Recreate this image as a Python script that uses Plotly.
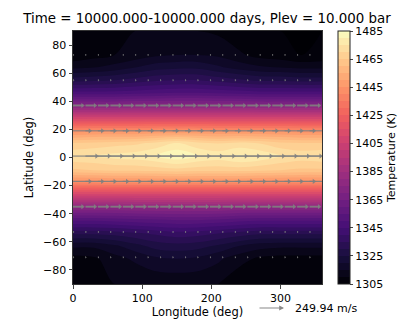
import plotly.graph_objects as go
import plotly.colors as pc

FONT = "DejaVu Sans"

# temperature field (K)
lons = [0, 30, 60, 90, 120, 150, 180, 210, 240, 270, 300, 330, 360]
lats = [-90, -72, -63, -54, -45, -36, -27, -18, -9, 1, 10, 19, 28, 37, 46, 55, 64, 73, 90]
temps = [
    [1305, 1306, 1310, 1310, 1311, 1311, 1311, 1310, 1306, 1305, 1305, 1305, 1305],
    [1308, 1309, 1313, 1316, 1319, 1320, 1319, 1316, 1312, 1309, 1308, 1308, 1308],
    [1316, 1316, 1319, 1323, 1327, 1328, 1327, 1324, 1320, 1317, 1316, 1316, 1316],
    [1331, 1331, 1332, 1334, 1336, 1338, 1337, 1335, 1333, 1331, 1331, 1331, 1331],
    [1350, 1350, 1351, 1352, 1353, 1354, 1354, 1353, 1351, 1350, 1350, 1350, 1350],
    [1374, 1374, 1374, 1375, 1375, 1375, 1375, 1375, 1374, 1374, 1374, 1374, 1374],
    [1406, 1406, 1406, 1406, 1406, 1406, 1406, 1406, 1406, 1406, 1406, 1406, 1406],
    [1440, 1440, 1441, 1441, 1441, 1441, 1441, 1441, 1441, 1440, 1440, 1440, 1440],
    [1464, 1465, 1466, 1466, 1467, 1468, 1467, 1467, 1467, 1466, 1465, 1464, 1464],
    [1474, 1475, 1477, 1478, 1480, 1484, 1480, 1478, 1481, 1479, 1475, 1473, 1474],
    [1466, 1467, 1468, 1469, 1472, 1476, 1472, 1470, 1472, 1470, 1467, 1466, 1466],
    [1442, 1443, 1443, 1443, 1444, 1444, 1444, 1443, 1443, 1443, 1443, 1442, 1442],
    [1408, 1408, 1408, 1408, 1408, 1408, 1408, 1408, 1408, 1408, 1408, 1408, 1408],
    [1373, 1373, 1373, 1374, 1374, 1374, 1374, 1374, 1374, 1373, 1373, 1373, 1373],
    [1347, 1347, 1347, 1348, 1349, 1350, 1350, 1349, 1348, 1347, 1347, 1347, 1347],
    [1328, 1329, 1330, 1332, 1334, 1335, 1335, 1333, 1331, 1329, 1329, 1328, 1328],
    [1314, 1315, 1317, 1320, 1323, 1324, 1324, 1321, 1318, 1316, 1315, 1314, 1314],
    [1306, 1308, 1310, 1312, 1314, 1315, 1315, 1314, 1311, 1308, 1307, 1305, 1306],
    [1305, 1307, 1309, 1310, 1310, 1310, 1310, 1309, 1306, 1305, 1305, 1305, 1305],
]

# wind rows: latitude and eastward speed (m/s)
wind_lats = [-71, -53, -35, -17, 1, 19, 37, 55, 73]
wind_speeds = [5, 6, 85, 150, 210, 150, 85, 6, 5]
wind_lons = list(range(0, 360, 18))
DEG_PER_MS = 40.5 / 249.94

cbar_ticks = list(range(1305, 1486, 20))
magma = pc.get_colorscale("Magma")

fig = go.Figure()
fig.add_trace(go.Contour(
    x=lons, y=lats, z=temps,
    colorscale=magma, zmin=1305, zmax=1485,
    contours=dict(start=1305, end=1485, size=5, coloring="fill", showlines=False),
    line_width=0,
    colorbar=dict(
        title=dict(text="Temperature (K)", side="right", font=dict(size=11, family=FONT, color="black")),
        tickvals=cbar_ticks,
        tickfont=dict(size=11, family=FONT, color="black"),
        ticks="outside", ticklen=3, tickwidth=1,
        thickness=12, len=1, lenmode="fraction", x=1.064, xanchor="left", y=0.5,
        outlinewidth=1, outlinecolor="#222", xpad=0, ypad=0,
    ),
))

# one quiver row at a time: shaft segments, then a head at each shaft end
for lat, speed in zip(wind_lats, wind_speeds):
    arrow_x, arrow_y, head_x = [], [], []
    for lon in wind_lons:
        end = lon + speed * DEG_PER_MS
        arrow_x += [lon, end, None]
        arrow_y += [lat, lat, None]
        head_x.append(end)
    fig.add_trace(go.Scatter(
        x=arrow_x, y=arrow_y, mode="lines",
        line=dict(color="rgba(128,128,128,0.9)", width=1.9 if speed < 100 else 1.2),
        hoverinfo="skip", showlegend=False,
    ))
    fig.add_trace(go.Scatter(
        x=head_x, y=[lat] * len(head_x), mode="markers",
        marker=dict(symbol="triangle-right", size=4.5 if speed > 50 else 1.5,
                    color="rgba(128,128,128,0.9)", line_width=0),
        hoverinfo="skip", showlegend=False,
    ))

# the page body adds 8px round the figure
fig.update_layout(
    template="none",
    width=407, height=324,
    margin=dict(l=65, r=93, t=23, b=48, autoexpand=False),
    paper_bgcolor="white",
    font=dict(family=FONT, size=11, color="black"),
    title=dict(
        text="Time = 10000.000-10000.000 days, Plev = 10.000 bar",
        font=dict(size=13.4, family=FONT, color="black"),
        x=199 / 407, xanchor="center", xref="container", y=0.969, yanchor="middle",
    ),
    xaxis=dict(
        title=dict(text="Longitude (deg)", font=dict(size=11.5), standoff=2),
        range=[0, 360], tickvals=[0, 100, 200, 300],
        ticks="outside", ticklen=3.5, showgrid=False, zeroline=False,
        showline=True, mirror=True, linecolor="#333", linewidth=1,
    ),
    yaxis=dict(
        title=dict(text="Latitude (deg)", font=dict(size=11.5), standoff=7),
        range=[-90, 90], tickvals=list(range(-80, 81, 20)),
        ticks="outside", ticklen=3.5, showgrid=False, zeroline=False,
        showline=True, mirror=True, linecolor="#333", linewidth=1,
    ),
    annotations=[
        dict(xref="paper", yref="paper", x=(284 - 73) / 249, y=(284 - 308) / 253,
             ax=-28, ay=0, axref="pixel", ayref="pixel", showarrow=True, text=" ",
             arrowcolor="#888", arrowwidth=1.2, arrowhead=2, arrowsize=0.8, standoff=0),
        dict(xref="paper", yref="paper", x=(293 - 73) / 249, y=(284 - 308) / 253,
             text="249.94 m/s", showarrow=False, xanchor="left", yanchor="middle",
             font=dict(size=11)),
    ],
)

fig.write_html("out.html")
